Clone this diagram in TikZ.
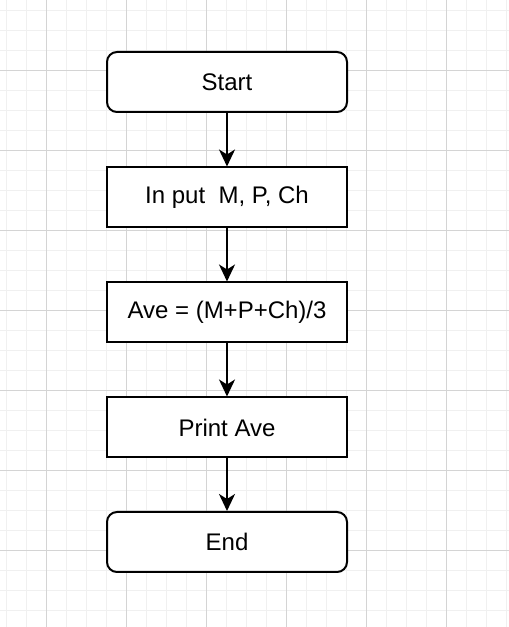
\documentclass[tikz,border=0pt]{standalone}
\usepackage{fontspec}
\setmainfont{Liberation Sans}
\usetikzlibrary{arrows.meta}
\definecolor{minorgrid}{HTML}{F0F0F0}
\definecolor{majorgrid}{HTML}{D4D4D4}
\tikzset{
  flowbox/.style={draw=black, line width=2pt, minimum width=240pt, minimum height=60pt, inner sep=0pt, fill=white,
    font=\fontsize{24}{28}\selectfont},
  termbox/.style={flowbox, rounded corners=10pt},
  flowarrow/.style={line width=2pt, -{Stealth[length=17pt,width=16pt,inset=5pt]}}
}
\begin{document}
\begin{tikzpicture}[x=1pt,y=1pt]
\useasboundingbox (0,0) rectangle (509,627);
\fill[white] (0,0) rectangle (509,627);
% minor grid
\foreach \gx in {6,26,...,506} \draw[minorgrid, line width=1pt] (\gx,0) -- (\gx,627);
\foreach \gy in {11,31,...,627} \draw[minorgrid, line width=1pt] (0,627-\gy) -- (509,627-\gy);
% major grid
\foreach \gx in {46,126,...,506} \draw[majorgrid, line width=1pt] (\gx,0) -- (\gx,627);
\foreach \gy in {71,151,...,627} \draw[majorgrid, line width=1pt] (0,627-\gy) -- (509,627-\gy);
% nodes
\node[termbox] (start) at (227,627-82) {Start};
\node[flowbox] (input) at (227,627-197.5) {In put\ \ M, P, Ch};
\node[flowbox] (ave) at (227,627-312.5) {Ave = (M+P+Ch)/3};
\node[flowbox] (print) at (227,627-427.5) {Print Ave};
\node[termbox] (end) at (227,627-542) {End};
% connectors
\draw[flowarrow] (start) -- (input);
\draw[flowarrow] (input) -- (ave);
\draw[flowarrow] (ave) -- (print);
\draw[flowarrow] (print) -- (end);
\end{tikzpicture}
\end{document}
